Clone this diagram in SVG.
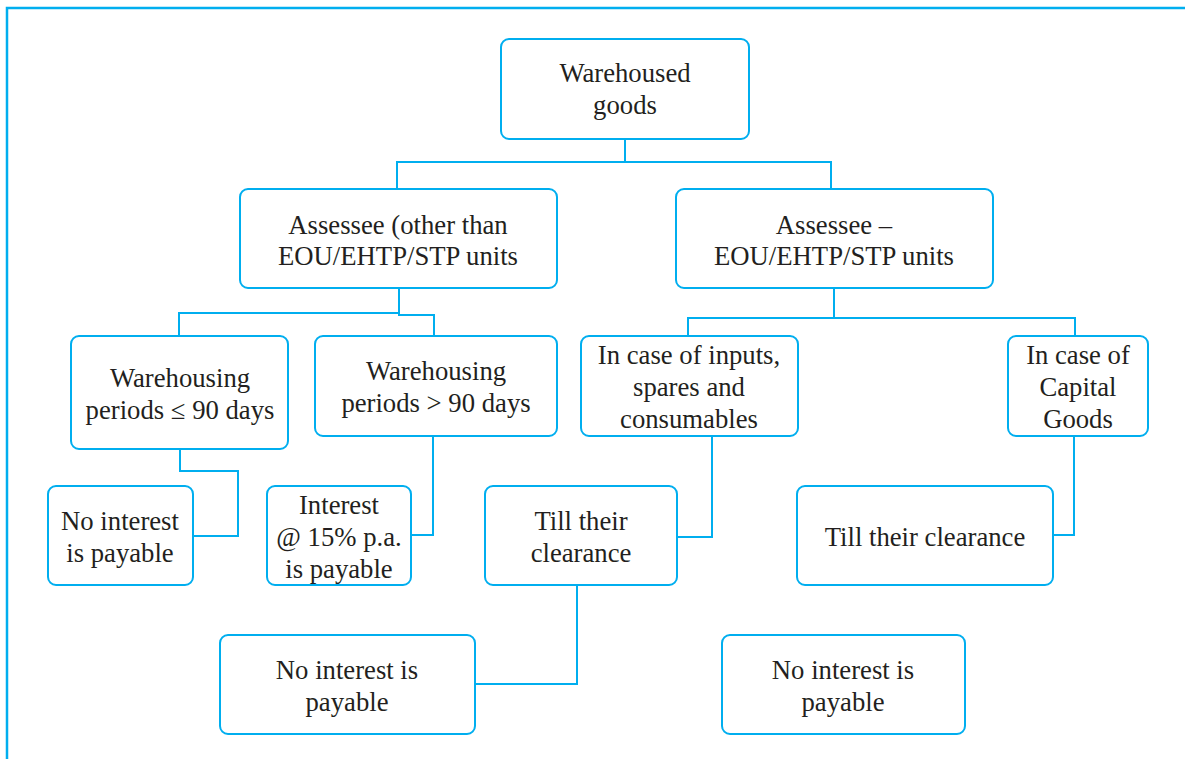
<svg xmlns="http://www.w3.org/2000/svg" width="1185" height="759" viewBox="0 0 1185 759">
<style>
.box{fill:#fff;stroke:#00AEEF;stroke-width:2;}
.ln{fill:none;stroke:#00AEEF;stroke-width:2;}
.t text{font-size:26.7px;fill:#231F20;text-anchor:middle;}
</style>
<rect width="1185" height="759" fill="#fff"/>
<g id="frame"><path d="M7,759 V8 H1185" fill="none" stroke="#00AEEF" stroke-width="2.5"/></g>
<g id="connectors" class="ln">
<path class="ln" d="M625,139 V162 M397,189 V162 H831 V189"/>
<path class="ln" d="M179,336 V313 H399 M399,289 V315 H434 V336"/>
<path class="ln" d="M834,289 V318 M688,336 V318 H1075 V336"/>
<path class="ln" d="M180,449 V471 H238 V536 H193"/>
<path class="ln" d="M433,436 V535 H411"/>
<path class="ln" d="M712,436 V537 H677"/>
<path class="ln" d="M577,585 V684 H475"/>
<path class="ln" d="M1074,436 V535 H1053"/>
</g>
<g class="t" font-family="'Liberation Serif', 'DejaVu Serif', serif">
<g id="n1"><rect class="box" x="501" y="39" width="248" height="100" rx="8"/><text x="625" y="82">Warehoused</text><text x="625" y="114">goods</text></g>
<g id="n2"><rect class="box" x="240" y="189" width="317" height="99" rx="8"/><text x="398" y="234">Assessee (other than</text><text x="398" y="265">EOU/EHTP/STP units</text></g>
<g id="n3"><rect class="box" x="676" y="189" width="317" height="99" rx="8"/><text x="834" y="234">Assessee –</text><text x="834" y="265">EOU/EHTP/STP units</text></g>
<g id="n4"><rect class="box" x="71" y="336" width="217" height="113" rx="8"/><text x="180" y="387">Warehousing</text><text x="180" y="419">periods ≤ 90 days</text></g>
<g id="n5"><rect class="box" x="315" y="336" width="242" height="100" rx="8"/><text x="436" y="380">Warehousing</text><text x="436" y="412">periods &gt; 90 days</text></g>
<g id="n6"><rect class="box" x="581" y="336" width="217" height="100" rx="8"/><text x="689" y="364">In case of inputs,</text><text x="689" y="396">spares and</text><text x="689" y="428">consumables</text></g>
<g id="n7"><rect class="box" x="1008" y="336" width="140" height="100" rx="8"/><text x="1078" y="364">In case of</text><text x="1078" y="396">Capital</text><text x="1078" y="428">Goods</text></g>
<g id="n8"><rect class="box" x="48" y="486" width="145" height="99" rx="8"/><text x="120" y="530">No interest</text><text x="120" y="562">is payable</text></g>
<g id="n9"><rect class="box" x="267" y="486" width="144" height="99" rx="8"/><text x="339" y="514">Interest</text><text x="339" y="546">@ 15% p.a.</text><text x="339" y="578">is payable</text></g>
<g id="n10"><rect class="box" x="485" y="486" width="192" height="99" rx="8"/><text x="581" y="530">Till their</text><text x="581" y="562">clearance</text></g>
<g id="n11"><rect class="box" x="797" y="486" width="256" height="99" rx="8"/><text x="925" y="546">Till their clearance</text></g>
<g id="n12"><rect class="box" x="220" y="635" width="255" height="99" rx="8"/><text x="347" y="679">No interest is</text><text x="347" y="711">payable</text></g>
<g id="n13"><rect class="box" x="722" y="635" width="243" height="99" rx="8"/><text x="843" y="679">No interest is</text><text x="843" y="711">payable</text></g>
</g>
</svg>
